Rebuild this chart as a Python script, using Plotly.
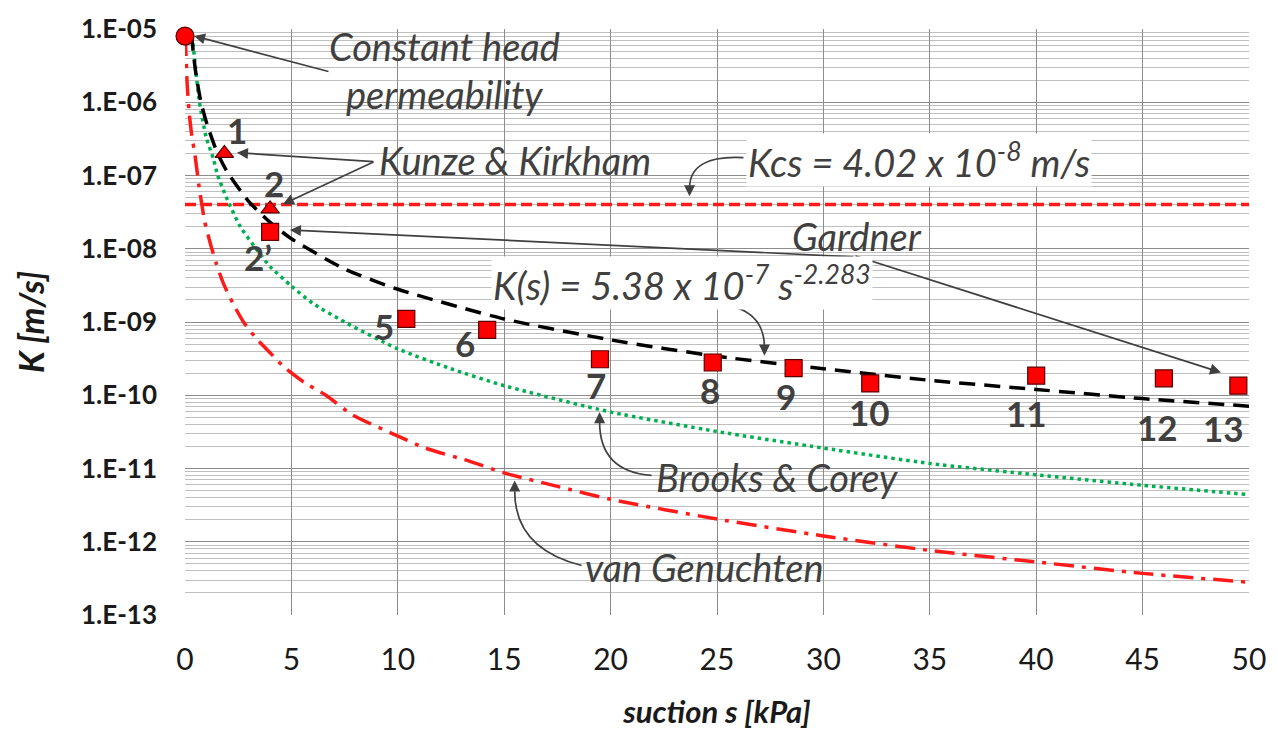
import math
import plotly.graph_objects as go

# ---------------- data ----------------
# measured points (squares)
sq_suction = [4.0, 10.4, 14.2, 19.5, 24.8, 28.6, 32.2, 40.0, 46.0, 49.5]
sq_K = [1.7e-8, 1.1e-9, 7.8e-10, 3.1e-10, 2.8e-10, 2.35e-10, 1.45e-10, 1.85e-10, 1.7e-10, 1.35e-10]
sq_labels = ["2\u2019", "5", "6", "7", "8", "9", "10", "11", "12", "13"]

# Kunze & Kirkham points (triangles)
kk_suction = [1.85, 4.0]
kk_K = [2.0e-7, 3.5e-8]
kk_labels = ["1", "2"]

# constant head permeability
ch_suction = [0.0]
ch_K = [8.0e-6]

# Kcs horizontal line
kcs_suction = [0, 50]
kcs_K = [4.02e-8, 4.02e-8]

# Gardner fit curve (black dashed)
g_suction = [0.3, 0.5, 0.75, 1, 1.5, 2, 3, 4, 5, 7.5, 10, 15, 20, 25, 30, 35, 40, 45, 50]
g_K = [8.4e-6, 2.6e-6, 1.0e-6, 5.4e-7, 2.1e-7, 1.1e-7, 4.4e-8, 2.3e-8, 1.37e-8, 5.3e-9,
       2.8e-9, 1.1e-9, 5.7e-10, 3.4e-10, 2.3e-10, 1.6e-10, 1.2e-10, 9.0e-11, 7.1e-11]

# Brooks & Corey (green dotted)
bc_suction = [0.34, 0.68, 1.0, 1.33, 1.54, 2.0, 2.6, 3.34, 4.0, 5, 6, 7.5, 10, 12.5, 15, 20,
              25, 30, 35, 40, 45, 50]
bc_K = [8e-6, 1e-6, 3.3e-7, 1.7e-7, 1e-7, 4.6e-8, 2.0e-8, 1e-8, 5.7e-9, 3.1e-9, 1.8e-9,
        1.0e-9, 4.3e-10, 2.3e-10, 1.35e-10, 5.9e-11, 3.2e-11, 1.9e-11, 1.17e-11, 8.2e-12,
        5.9e-12, 4.4e-12]

# van Genuchten (red dash-dot)
vg_suction = [0.0, 0.04, 0.1, 0.2, 0.32, 0.47, 0.65, 0.92, 1.2, 1.47, 1.8, 2.25, 2.75, 3.34,
              4.0, 4.67, 5.6, 6.62, 7.87, 9.74, 11.3, 13.36, 15, 17.5, 20, 25, 30, 35, 40, 45, 50]
vg_K = [8e-6, 5e-6, 1.8e-6, 7e-7, 3.5e-7, 1.9e-7, 7.5e-8, 2.4e-8, 1.15e-8, 6.3e-9, 3.4e-9,
        1.8e-9, 1.0e-9, 6e-10, 3.8e-10, 2.4e-10, 1.5e-10, 1e-10, 5.4e-11, 3.0e-11, 1.9e-11,
        1.26e-11, 8.7e-12, 5.7e-12, 3.8e-12, 2.04e-12, 1.2e-12, 7.6e-13, 5.3e-13, 3.7e-13, 2.8e-13]

x_ticks = list(range(0, 51, 5))
y_tickvals = [10.0 ** e for e in range(-13, -4)]
y_ticktext = ["1.E-%02d" % (-e) for e in range(-13, -4)]

# ---------------- layout helpers ----------------
W, H = 1278, 736
L, R, T, B = 185, 28, 23, 121
PW, PH = W - L - R, H - T - B


def paper(px, py):
    return (px - L) / PW, 1 - (py - T) / PH


def data(px, py):
    return (px - L) / PW * 50, -5 - (py - T) / PH * 8


GREY = "#404040"
FONT = "Lato"

fig = go.Figure()

fig.add_trace(go.Scatter(x=vg_suction, y=vg_K, mode="lines", line_shape="spline",
                         line=dict(color="#ff1a1a", width=3.5, dash="20px,8px,4px,8px",
                                   smoothing=0.6),
                         showlegend=False))
fig.add_trace(go.Scatter(x=bc_suction, y=bc_K, mode="lines", line_shape="spline",
                         line=dict(color="#00b050", width=3.5, dash="3.5px,4px", smoothing=0.6),
                         showlegend=False))
fig.add_trace(go.Scatter(x=kcs_suction, y=kcs_K, mode="lines",
                         line=dict(color="#ff1a1a", width=3.5, dash="11px,5px"), showlegend=False))
fig.add_trace(go.Scatter(x=g_suction, y=g_K, mode="lines", line_shape="spline",
                         line=dict(color="black", width=3.5, dash="16px,9px", smoothing=0.6),
                         showlegend=False))

fig.add_trace(go.Scatter(x=sq_suction, y=sq_K, mode="markers", cliponaxis=False,
                         marker=dict(symbol="square", size=17, color="#ff0000",
                                     line=dict(color="#5a0000", width=1.2)), showlegend=False))
fig.add_trace(go.Scatter(x=kk_suction, y=kk_K, mode="markers", cliponaxis=False,
                         marker=dict(symbol="triangle-up", size=16, color="#ff0000",
                                     line=dict(color="#5a0000", width=1.2)), showlegend=False))
fig.add_trace(go.Scatter(x=ch_suction, y=ch_K, mode="markers", cliponaxis=False,
                         marker=dict(symbol="circle", size=18, color="#ff0000",
                                     line=dict(color="#5a0000", width=1.2)), showlegend=False))

annotations = []

# point number labels (pixel offsets from their points)
sq_offsets = [(-12, -25), (-22, -7), (-22, -13), (-4, -26), (-3, -27), (-8, -28),
              (-1, -29), (-10, -37), (-6, -49), (-15, -42)]
kk_offsets = [(13, 23), (4, 26)]
for s, k, lab, (dx, dy) in list(zip(sq_suction, sq_K, sq_labels, sq_offsets)) + \
        list(zip(kk_suction, kk_K, kk_labels, kk_offsets)):
    annotations.append(dict(x=s, y=math.log10(k), text="<b>%s</b>" % lab, showarrow=False,
                            xshift=dx, yshift=dy, font=dict(family=FONT, size=35, color=GREY)))


def text(px, py, t, bg=None, size=38):
    x, y = data(px, py)
    d = dict(x=x, y=y, text=t, showarrow=False,
             font=dict(family=FONT, size=size, color=GREY, style="italic"))
    if bg:
        d["bgcolor"] = bg
    annotations.append(d)


def arrow(px_head, py_head, px_tail, py_tail):
    x, y = data(px_head, py_head)
    annotations.append(dict(x=x, y=y, text="", showarrow=True, ax=px_tail - px_head,
                            ay=py_tail - py_head, arrowhead=2, arrowsize=1.3,
                            arrowwidth=1.7, arrowcolor=GREY, standoff=0))


shapes = []


def curve(p0, c, p1):
    a = paper(*p0)
    b = paper(*c)
    e = paper(*p1)
    shapes.append(dict(type="path", xref="paper", yref="paper",
                       path="M %f,%f Q %f,%f %f,%f" % (a[0], a[1], b[0], b[1], e[0], e[1]),
                       line=dict(color=GREY, width=1.7)))


text(445, 40, "Constant head")
text(445, 89, "permeability")
arrow(194, 30, 330, 66)

text(515, 155, "Kunze &amp; Kirkham")
arrow(237, 148, 375, 157)
arrow(283, 200, 375, 157)

text(920, 155, "Kcs = 4.02 x 10<sup>-8</sup> m/s", bg="white")
curve((744, 153), (690, 150), (690, 184))
arrow(690, 192, 690, 180)

text(858, 232, "Gardner")
arrow(290, 226, 855, 253)
arrow(1222, 370, 855, 253)

text(682, 280, "K(s) = 5.38 x 10<sup>-7</sup> s<sup>-2.283</sup>", bg="white")
curve((706, 300), (765, 300), (765, 345))
arrow(765, 353, 765, 341)

text(778, 476, "Brooks &amp; Corey")
curve((652, 474), (600, 470), (600, 420))
arrow(600, 410, 600, 422)

text(705, 566, "van Genuchten")
curve((582, 565), (515, 548), (515, 490))
arrow(515, 479, 515, 491)

minor_vals = [m * 10.0 ** e for e in range(-13, -5) for m in range(2, 10)]

fig.update_layout(
    width=W, height=H,
    margin=dict(l=L, r=R, t=T, b=B, pad=0),
    plot_bgcolor="white", paper_bgcolor="white",
    annotations=annotations, shapes=shapes,
    xaxis=dict(range=[0, 50], tickvals=x_ticks, showgrid=True, gridcolor="#8c8c8c",
               gridwidth=1.2, zeroline=False, showline=False, ticks="",
               ticklabelstandoff=24,
               tickfont=dict(family=FONT, size=30, color="#1a1a1a"),
               title=dict(text="<b><i>suction s [kPa]</i></b>", standoff=26,
                          font=dict(family=FONT, size=31, color="#1a1a1a"))),
    yaxis=dict(type="log", range=[-13, -5], tickvals=y_tickvals, ticktext=y_ticktext,
               showgrid=True, gridcolor="#8c8c8c", gridwidth=1, zeroline=False,
               showline=False, ticks="", ticklabelstandoff=27,
               minor=dict(tickvals=minor_vals, showgrid=True, gridcolor="#bfbfbf",
                          gridwidth=1, ticks=""),
               tickfont=dict(family=FONT, size=26, color="#1a1a1a", weight="bold"),
               title=dict(text="<b><i>K [m/s]</i></b>", standoff=26,
                          font=dict(family=FONT, size=34, color="#1a1a1a"))),
)

fig.write_html("out.html")
